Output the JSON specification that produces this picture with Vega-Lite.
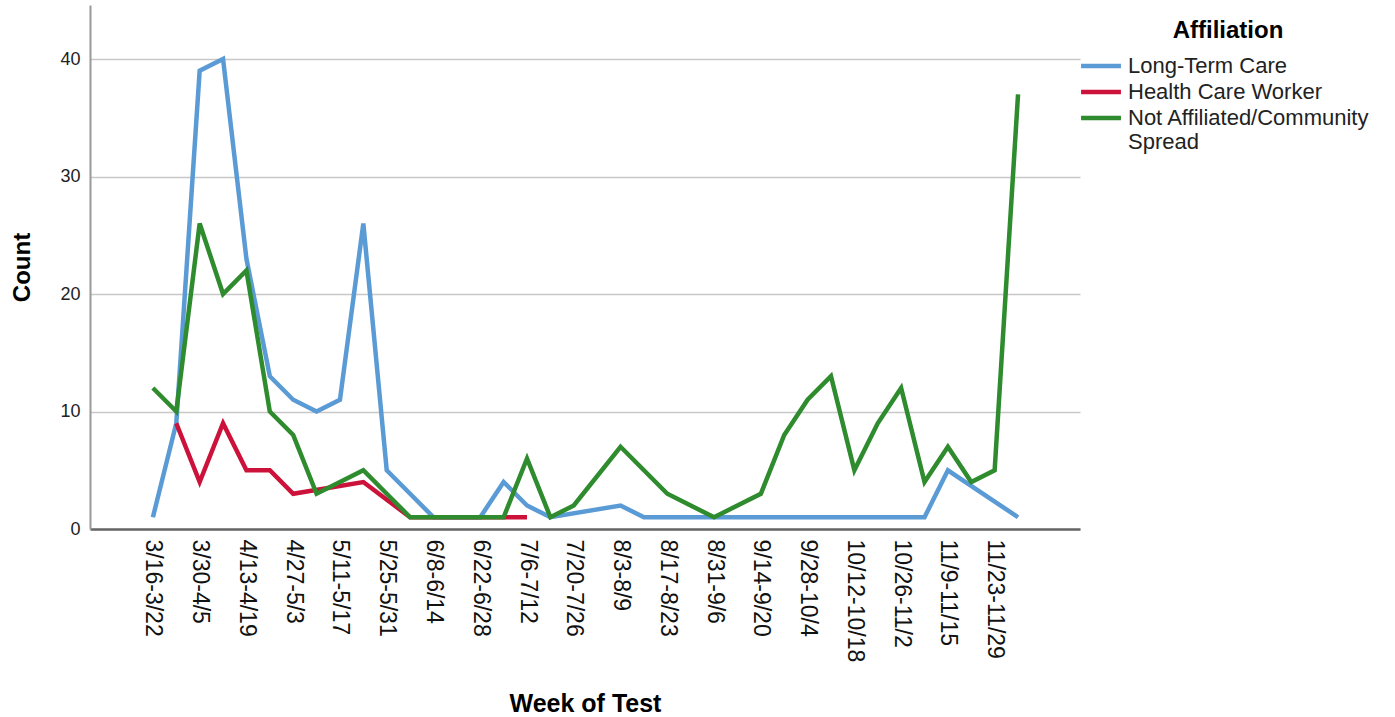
{
  "$schema": "https://vega.github.io/schema/vega-lite/v6.json",
  "width": 990,
  "height": 524,
  "autosize": {"type": "none"},
  "padding": {"left": 90, "top": 5, "right": 315, "bottom": 188},
  "background": "white",
  "config": {
    "font": "Liberation Sans",
    "view": {"stroke": null},
    "axis": {"labelFont": "Liberation Sans", "titleFont": "Liberation Sans"}
  },
  "data": {
    "values": [
      {"wk": 0, "week": "3/16-3/22", "affiliation": "Long-Term Care", "count": 1},
      {"wk": 1, "week": "3/23-3/29", "affiliation": "Long-Term Care", "count": 9},
      {"wk": 2, "week": "3/30-4/5", "affiliation": "Long-Term Care", "count": 39},
      {"wk": 3, "week": "4/6-4/12", "affiliation": "Long-Term Care", "count": 40},
      {"wk": 4, "week": "4/13-4/19", "affiliation": "Long-Term Care", "count": 23},
      {"wk": 5, "week": "4/20-4/26", "affiliation": "Long-Term Care", "count": 13},
      {"wk": 6, "week": "4/27-5/3", "affiliation": "Long-Term Care", "count": 11},
      {"wk": 7, "week": "5/4-5/10", "affiliation": "Long-Term Care", "count": 10},
      {"wk": 8, "week": "5/11-5/17", "affiliation": "Long-Term Care", "count": 11},
      {"wk": 9, "week": "5/18-5/24", "affiliation": "Long-Term Care", "count": 26},
      {"wk": 10, "week": "5/25-5/31", "affiliation": "Long-Term Care", "count": 5},
      {"wk": 11, "week": "6/1-6/7", "affiliation": "Long-Term Care", "count": 3},
      {"wk": 12, "week": "6/8-6/14", "affiliation": "Long-Term Care", "count": 1},
      {"wk": 13, "week": "6/15-6/21", "affiliation": "Long-Term Care", "count": 1},
      {"wk": 14, "week": "6/22-6/28", "affiliation": "Long-Term Care", "count": 1},
      {"wk": 15, "week": "6/29-7/5", "affiliation": "Long-Term Care", "count": 4},
      {"wk": 16, "week": "7/6-7/12", "affiliation": "Long-Term Care", "count": 2},
      {"wk": 17, "week": "7/13-7/19", "affiliation": "Long-Term Care", "count": 1},
      {"wk": 20, "week": "8/3-8/9", "affiliation": "Long-Term Care", "count": 2},
      {"wk": 21, "week": "8/10-8/16", "affiliation": "Long-Term Care", "count": 1},
      {"wk": 22, "week": "8/17-8/23", "affiliation": "Long-Term Care", "count": 1},
      {"wk": 23, "week": "8/24-8/30", "affiliation": "Long-Term Care", "count": 1},
      {"wk": 24, "week": "8/31-9/6", "affiliation": "Long-Term Care", "count": 1},
      {"wk": 25, "week": "9/7-9/13", "affiliation": "Long-Term Care", "count": 1},
      {"wk": 26, "week": "9/14-9/20", "affiliation": "Long-Term Care", "count": 1},
      {"wk": 27, "week": "9/21-9/27", "affiliation": "Long-Term Care", "count": 1},
      {"wk": 28, "week": "9/28-10/4", "affiliation": "Long-Term Care", "count": 1},
      {"wk": 29, "week": "10/5-10/11", "affiliation": "Long-Term Care", "count": 1},
      {"wk": 30, "week": "10/12-10/18", "affiliation": "Long-Term Care", "count": 1},
      {"wk": 31, "week": "10/19-10/25", "affiliation": "Long-Term Care", "count": 1},
      {"wk": 32, "week": "10/26-11/2", "affiliation": "Long-Term Care", "count": 1},
      {"wk": 33, "week": "11/3-11/8", "affiliation": "Long-Term Care", "count": 1},
      {"wk": 34, "week": "11/9-11/15", "affiliation": "Long-Term Care", "count": 5},
      {"wk": 37, "week": "11/30-12/6", "affiliation": "Long-Term Care", "count": 1},

      {"wk": 1, "week": "3/23-3/29", "affiliation": "Health Care Worker", "count": 9},
      {"wk": 2, "week": "3/30-4/5", "affiliation": "Health Care Worker", "count": 4},
      {"wk": 3, "week": "4/6-4/12", "affiliation": "Health Care Worker", "count": 9},
      {"wk": 4, "week": "4/13-4/19", "affiliation": "Health Care Worker", "count": 5},
      {"wk": 5, "week": "4/20-4/26", "affiliation": "Health Care Worker", "count": 5},
      {"wk": 6, "week": "4/27-5/3", "affiliation": "Health Care Worker", "count": 3},
      {"wk": 9, "week": "5/18-5/24", "affiliation": "Health Care Worker", "count": 4},
      {"wk": 11, "week": "6/1-6/7", "affiliation": "Health Care Worker", "count": 1},
      {"wk": 12, "week": "6/8-6/14", "affiliation": "Health Care Worker", "count": 1},
      {"wk": 13, "week": "6/15-6/21", "affiliation": "Health Care Worker", "count": 1},
      {"wk": 14, "week": "6/22-6/28", "affiliation": "Health Care Worker", "count": 1},
      {"wk": 15, "week": "6/29-7/5", "affiliation": "Health Care Worker", "count": 1},
      {"wk": 16, "week": "7/6-7/12", "affiliation": "Health Care Worker", "count": 1},

      {"wk": 0, "week": "3/16-3/22", "affiliation": "Not Affiliated/Community Spread", "count": 12},
      {"wk": 1, "week": "3/23-3/29", "affiliation": "Not Affiliated/Community Spread", "count": 10},
      {"wk": 2, "week": "3/30-4/5", "affiliation": "Not Affiliated/Community Spread", "count": 26},
      {"wk": 3, "week": "4/6-4/12", "affiliation": "Not Affiliated/Community Spread", "count": 20},
      {"wk": 4, "week": "4/13-4/19", "affiliation": "Not Affiliated/Community Spread", "count": 22},
      {"wk": 5, "week": "4/20-4/26", "affiliation": "Not Affiliated/Community Spread", "count": 10},
      {"wk": 6, "week": "4/27-5/3", "affiliation": "Not Affiliated/Community Spread", "count": 8},
      {"wk": 7, "week": "5/4-5/10", "affiliation": "Not Affiliated/Community Spread", "count": 3},
      {"wk": 8, "week": "5/11-5/17", "affiliation": "Not Affiliated/Community Spread", "count": 4},
      {"wk": 9, "week": "5/18-5/24", "affiliation": "Not Affiliated/Community Spread", "count": 5},
      {"wk": 10, "week": "5/25-5/31", "affiliation": "Not Affiliated/Community Spread", "count": 3},
      {"wk": 11, "week": "6/1-6/7", "affiliation": "Not Affiliated/Community Spread", "count": 1},
      {"wk": 12, "week": "6/8-6/14", "affiliation": "Not Affiliated/Community Spread", "count": 1},
      {"wk": 13, "week": "6/15-6/21", "affiliation": "Not Affiliated/Community Spread", "count": 1},
      {"wk": 14, "week": "6/22-6/28", "affiliation": "Not Affiliated/Community Spread", "count": 1},
      {"wk": 15, "week": "6/29-7/5", "affiliation": "Not Affiliated/Community Spread", "count": 1},
      {"wk": 16, "week": "7/6-7/12", "affiliation": "Not Affiliated/Community Spread", "count": 6},
      {"wk": 17, "week": "7/13-7/19", "affiliation": "Not Affiliated/Community Spread", "count": 1},
      {"wk": 18, "week": "7/20-7/26", "affiliation": "Not Affiliated/Community Spread", "count": 2},
      {"wk": 20, "week": "8/3-8/9", "affiliation": "Not Affiliated/Community Spread", "count": 7},
      {"wk": 22, "week": "8/17-8/23", "affiliation": "Not Affiliated/Community Spread", "count": 3},
      {"wk": 24, "week": "8/31-9/6", "affiliation": "Not Affiliated/Community Spread", "count": 1},
      {"wk": 26, "week": "9/14-9/20", "affiliation": "Not Affiliated/Community Spread", "count": 3},
      {"wk": 27, "week": "9/21-9/27", "affiliation": "Not Affiliated/Community Spread", "count": 8},
      {"wk": 28, "week": "9/28-10/4", "affiliation": "Not Affiliated/Community Spread", "count": 11},
      {"wk": 29, "week": "10/5-10/11", "affiliation": "Not Affiliated/Community Spread", "count": 13},
      {"wk": 30, "week": "10/12-10/18", "affiliation": "Not Affiliated/Community Spread", "count": 5},
      {"wk": 31, "week": "10/19-10/25", "affiliation": "Not Affiliated/Community Spread", "count": 9},
      {"wk": 32, "week": "10/26-11/2", "affiliation": "Not Affiliated/Community Spread", "count": 12},
      {"wk": 33, "week": "11/3-11/8", "affiliation": "Not Affiliated/Community Spread", "count": 4},
      {"wk": 34, "week": "11/9-11/15", "affiliation": "Not Affiliated/Community Spread", "count": 7},
      {"wk": 35, "week": "11/16-11/22", "affiliation": "Not Affiliated/Community Spread", "count": 4},
      {"wk": 36, "week": "11/23-11/29", "affiliation": "Not Affiliated/Community Spread", "count": 5},
      {"wk": 37, "week": "11/30-12/6", "affiliation": "Not Affiliated/Community Spread", "count": 37}
    ]
  },
  "mark": {"type": "line", "strokeWidth": 4.5, "strokeJoin": "miter", "strokeCap": "butt"},
  "encoding": {
    "x": {
      "field": "wk",
      "type": "quantitative",
      "title": "Week of Test",
      "scale": {"domain": [-2.69, 39.65], "nice": false, "zero": false},
      "axis": {
        "values": [0, 2, 4, 6, 8, 10, 12, 14, 16, 18, 20, 22, 24, 26, 28, 30, 32, 34, 36],
        "labelExpr": "['3/16-3/22','3/23-3/29','3/30-4/5','4/6-4/12','4/13-4/19','4/20-4/26','4/27-5/3','5/4-5/10','5/11-5/17','5/18-5/24','5/25-5/31','6/1-6/7','6/8-6/14','6/15-6/21','6/22-6/28','6/29-7/5','7/6-7/12','7/13-7/19','7/20-7/26','7/27-8/2','8/3-8/9','8/10-8/16','8/17-8/23','8/24-8/30','8/31-9/6','9/7-9/13','9/14-9/20','9/21-9/27','9/28-10/4','10/5-10/11','10/12-10/18','10/19-10/25','10/26-11/2','11/3-11/8','11/9-11/15','11/16-11/22','11/23-11/29','11/30-12/6'][datum.value]",
        "labelAngle": 90,
        "labelFontSize": 23,
        "labelColor": "#111",
        "labelPadding": 10,
        "labelOverlap": false,
        "labelFlush": false,
        "labelLimit": 300,
        "ticks": false,
        "grid": false,
        "domainColor": "#666",
        "domainWidth": 2.5,
        "titleFontSize": 25,
        "titleFontWeight": "bold",
        "titleColor": "#000",
        "titlePadding": 30
      }
    },
    "y": {
      "field": "count",
      "type": "quantitative",
      "title": "Count",
      "scale": {"domain": [0, 44.6], "nice": false, "zero": true},
      "axis": {
        "values": [0, 10, 20, 30, 40],
        "labelFontSize": 18,
        "labelColor": "#222",
        "labelPadding": 10,
        "ticks": false,
        "grid": true,
        "gridColor": "#c8c8c8",
        "gridWidth": 1.5,
        "domainColor": "#999",
        "domainWidth": 2,
        "titleFontSize": 24,
        "titleFontWeight": "bold",
        "titleColor": "#000",
        "titlePadding": 25
      }
    },
    "color": {
      "field": "affiliation",
      "type": "nominal",
      "title": "Affiliation",
      "scale": {
        "domain": ["Long-Term Care", "Health Care Worker", "Not Affiliated/Community Spread"],
        "range": ["#5b9bd5", "#cc123a", "#2e8b2e"]
      },
      "legend": {
        "orient": "none",
        "legendX": 997,
        "legendY": 14,
        "titleFontSize": 24,
        "titleFontWeight": "bold",
        "titleColor": "#000",
        "titleAnchor": "middle",
        "titlePadding": 9,
        "labelFontSize": 22,
        "labelColor": "#222",
        "labelLimit": 400,
        "labelOffset": 13,
        "labelExpr": "datum.label == 'Not Affiliated/Community Spread' ? ['Not Affiliated/Community', 'Spread'] : datum.label",
        "symbolType": "M-1.7,0L1.7,0",
        "symbolSize": 550,
        "symbolStrokeWidth": 4.5,
        "rowPadding": 1
      }
    }
  }
}
